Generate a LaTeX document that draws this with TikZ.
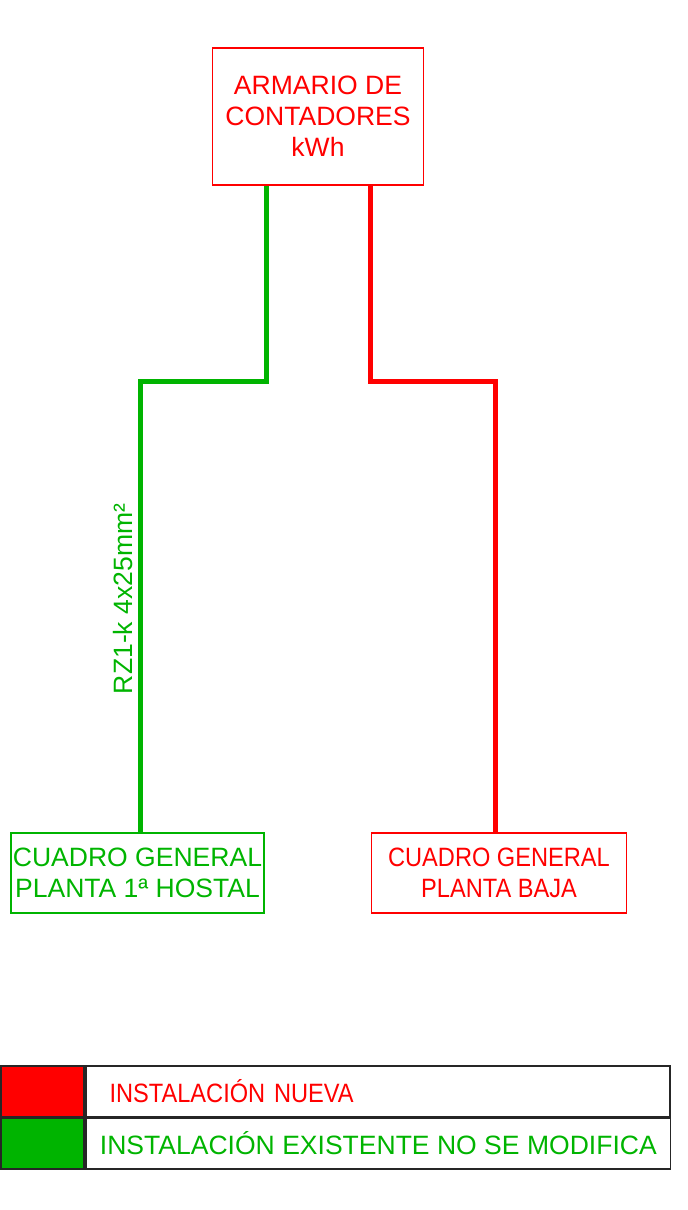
\documentclass[tikz,border=0pt]{standalone}
\usepackage{fontspec}
\setmainfont{Liberation Sans}
\newfontfamily\estrecha[FakeStretch=0.89]{Liberation Sans}
\usetikzlibrary{positioning}
\definecolor{rojo}{RGB}{255,0,0}
\definecolor{verde}{RGB}{0,180,0}
\begin{document}
\begin{tikzpicture}[x=0.75pt, y=-0.75pt,
  font=\fontsize{19.9}{23.4}\selectfont,
  caja/.style={draw, line width=1.1pt, inner sep=0pt, align=center},
  cable/.style={line width=3.75pt},
  muestra/.style={draw=black!85, line width=1.3pt, inner sep=0pt, minimum width=62.6pt, minimum height=38.6pt},
  leyenda/.style={draw=black!85, line width=1.3pt, inner ysep=0pt, minimum height=38.6pt}]
\useasboundingbox (0,0) rectangle (688,1210);
% cajas
\node[caja, rojo, minimum width=158pt, minimum height=102.8pt] (armario) at (318,116.5)
  {ARMARIO DE\\CONTADORES\\kWh};
\node[caja, verde, minimum width=190pt, minimum height=60pt] (hostal) at (137.5,873)
  {CUADRO GENERAL\\PLANTA 1ª HOSTAL};
\node[caja, rojo, minimum width=191pt, minimum height=60pt, font=\estrecha\fontsize{19.9}{23.4}\selectfont] (baja) at (499,873)
  {CUADRO GENERAL\\PLANTA BAJA};
% cables
\coordinate (v1) at (266.5,381.5); \coordinate (v2) at (140.5,381.5);
\coordinate (r1) at (370,381.5); \coordinate (r2) at (495.5,381.5);
\draw[cable, verde] (v1 |- armario.south) -- (v1) -- (v2) -- (v2 |- hostal.north);
\draw[cable, rojo] (r1 |- armario.south) -- (r1) -- (r2) -- (r2 |- baja.north);
\node[verde, rotate=90, anchor=base, inner sep=0pt] (seccion) at (132,599) {RZ1-k 4x25mm²};
% leyenda
\node[muestra, fill=rojo, anchor=north west] (mnueva) at (0,1065) {};
\node[muestra, fill=verde, anchor=north west] (mexist) at (0,1117) {};
\node[leyenda, text=rojo, anchor=north west, inner xsep=17.6pt, text width=403pt, align=left,
  font=\estrecha\fontsize{19.9}{23.4}\selectfont] (tnueva) at (mnueva.north east) {\raisebox{-3pt}{INSTALACIÓN NUEVA}};
\node[leyenda, text=verde, anchor=north west, minimum width=438.4pt, inner xsep=0pt] (texist) at (mexist.north east)
  {INSTALACIÓN EXISTENTE NO SE MODIFICA};
\end{tikzpicture}
\end{document}
